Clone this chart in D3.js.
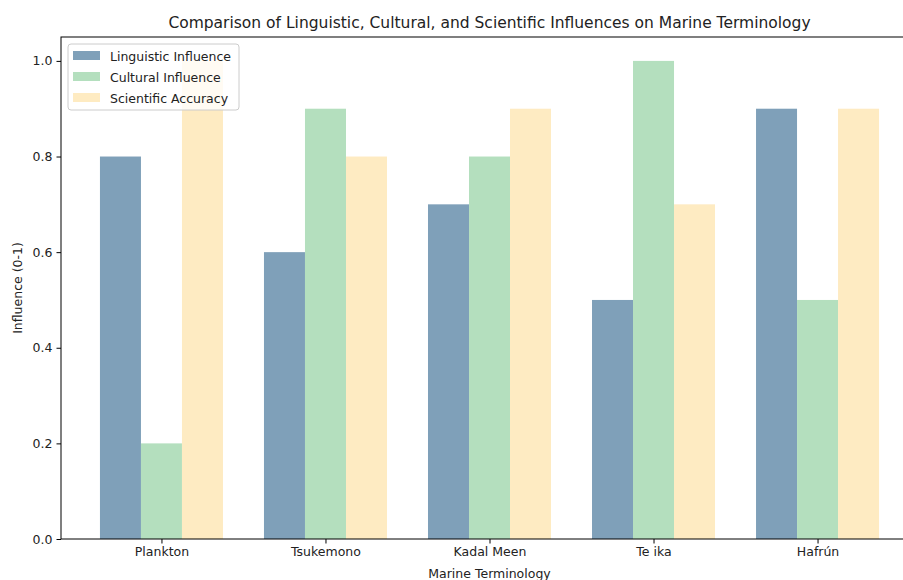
<!DOCTYPE html>
<html>
<head>
<meta charset="utf-8">
<script src="https://cdn.jsdelivr.net/npm/d3@7"></script>
<style>
  body { margin: 0; background: #fff; }
  text { font-family: "DejaVu Sans", sans-serif; fill: #222; }
</style>
</head>
<body>
<script>
// data
var terms = ['Plankton', 'Tsukemono', 'Kadal Meen', 'Te ika', 'Hafrún'];
var seriesNames = ['Linguistic Influence', 'Cultural Influence', 'Scientific Accuracy'];
var linguistic = [0.8, 0.6, 0.7, 0.5, 0.9];
var cultural = [0.2, 0.9, 0.8, 1.0, 0.5];
var scientific = [1.0, 0.8, 0.9, 0.7, 0.9];
var yTicks = [0.0, 0.2, 0.4, 0.6, 0.8, 1.0];

var seriesValues = [linguistic, cultural, scientific];
var color = d3.scaleOrdinal(seriesNames, ['#7fa0b9', '#b4dfbe', '#feebc2']);

// === setup (plot area runs past the right edge, like the original)
var W = 903, H = 580;
var margin = { left: 61, right: 918, top: 37, bottom: 539 };
var barW = 0.25;

var svg = d3.select('body').append('svg')
  .attr('width', W)
  .attr('height', H);

var xScale = d3.scaleLinear().domain([-0.6125, 4.6125]).range([margin.left, margin.right]);
var yScale = d3.scaleLinear().domain([0, 1.05]).range([margin.bottom, margin.top]);

// bars
seriesNames.forEach(function(name, s) {
  svg.append('g')
    .selectAll('rect')
    .data(seriesValues[s])
    .enter()
    .append('rect')
    .attr('x', (d, i) => xScale(i + (s - 1) * barW - barW / 2))
    .attr('width', xScale(barW) - xScale(0))
    .attr('y', d => yScale(d))
    .attr('height', d => yScale(0) - yScale(d))
    .style('fill', color(name));
});

// axes
var xAxis = d3.axisBottom(xScale)
  .tickValues(d3.range(terms.length))
  .tickFormat(i => terms[i])
  .tickSize(4.5)
  .tickPadding(4);

var yAxis = d3.axisLeft(yScale)
  .tickValues(yTicks)
  .tickFormat(d3.format('.1f'))
  .tickSize(4.5)
  .tickPadding(4);

var gx = svg.append('g')
  .attr('transform', `translate(0, ${margin.bottom})`)
  .call(xAxis);
var gy = svg.append('g')
  .attr('transform', `translate(${margin.left}, 0)`)
  .call(yAxis);

[gx, gy].forEach(function(g) {
  g.select('.domain').remove();
  g.selectAll('.tick line').style('stroke', '#000').style('stroke-width', 1);
  g.selectAll('.tick text').style('font-size', '12.5px').style('fill', '#222');
});

// spines
svg.append('rect')
  .attr('x', margin.left)
  .attr('y', margin.top)
  .attr('width', margin.right - margin.left)
  .attr('height', margin.bottom - margin.top)
  .style('fill', 'none')
  .style('stroke', '#000')
  .style('stroke-width', 1);

// title and labels
svg.append('text')
  .text('Comparison of Linguistic, Cultural, and Scientific Influences on Marine Terminology')
  .attr('text-anchor', 'middle')
  .style('font-size', '15.5px')
  .attr('x', (margin.left + margin.right) / 2)
  .attr('y', 28);

svg.append('text')
  .text('Marine Terminology')
  .attr('text-anchor', 'middle')
  .style('font-size', '12.5px')
  .attr('x', (margin.left + margin.right) / 2)
  .attr('y', 578);

svg.append('text')
  .text('Influence (0-1)')
  .attr('text-anchor', 'middle')
  .style('font-size', '12.5px')
  .attr('transform', `translate(22, ${(margin.top + margin.bottom) / 2}) rotate(-90)`);

// legend
var legend = svg.append('g')
  .attr('transform', `translate(68, 44)`);

legend.append('rect')
  .attr('width', 171)
  .attr('height', 66)
  .attr('rx', 3)
  .style('fill', '#fff')
  .style('fill-opacity', 0.8)
  .style('stroke', '#ccc');

var item = legend.selectAll('.legend')
  .data(seriesNames)
  .enter()
  .append('g')
  .attr('class', 'legend')
  .attr('transform', (d, i) => `translate(5, ${7 + i * 21})`);

item.append('rect')
  .attr('width', 27)
  .attr('height', 9)
  .style('fill', d => color(d));

item.append('text')
  .text(d => d)
  .style('font-size', '12.5px')
  .attr('x', 37)
  .attr('y', 9.5);
</script>
</body>
</html>
